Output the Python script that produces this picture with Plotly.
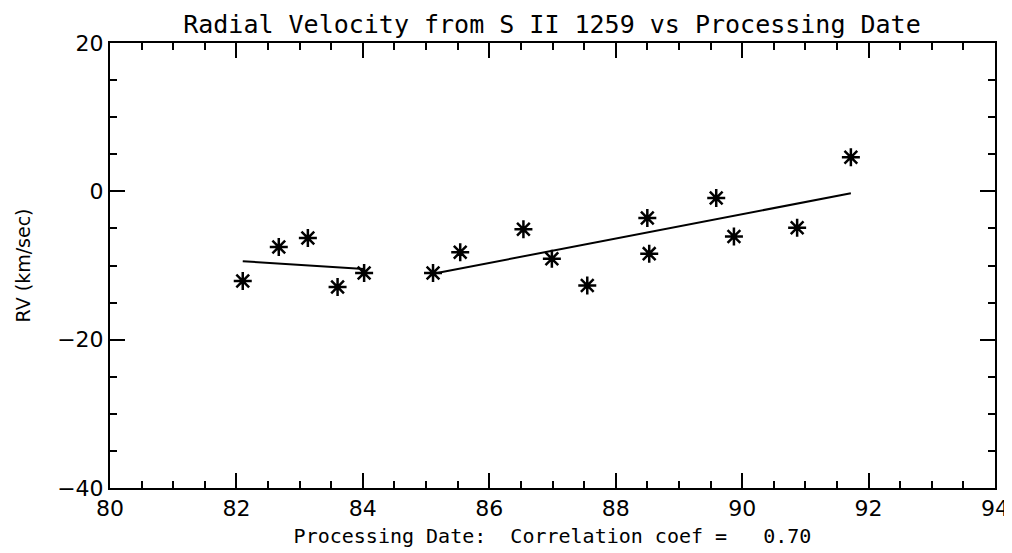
import numpy as np
import plotly.graph_objects as go

# early group of processing dates and RVs
date_early = [82.10, 82.67, 83.13, 83.60, 84.02]
rv_early = [-12.1, -7.5, -6.3, -12.9, -11.0]

# later group
date_late = [85.11, 85.54, 86.54, 86.99, 87.55, 88.50, 88.53, 89.59, 89.87, 90.87, 91.72]
rv_late = [-11.0, -8.2, -5.1, -9.1, -12.7, -3.6, -8.4, -0.9, -6.1, -4.9, 4.6]

x_ticks = [80, 82, 84, 86, 88, 90, 92, 94]
y_ticks = [-40, -20, 0, 20]

FONT = "DejaVu Sans"
MONO = "DejaVu Sans Mono"

fig = go.Figure()

for xs, ys in [(date_early, rv_early), (date_late, rv_late)]:
    xs = np.array(xs)
    ys = np.array(ys)
    slope, icpt = np.polyfit(xs, ys, 1)
    fx = np.array([xs.min(), xs.max()])
    fig.add_trace(go.Scatter(
        x=fx, y=slope * fx + icpt, mode="lines",
        line=dict(color="black", width=2), showlegend=False, hoverinfo="skip",
    ))
    fig.add_trace(go.Scatter(
        x=xs, y=ys, mode="markers",
        marker=dict(symbol="asterisk-open", size=15, color="black",
                    line=dict(color="black", width=2.5)),
        showlegend=False,
    ))

axis_common = dict(
    showgrid=False, zeroline=False, showline=True, linecolor="black", linewidth=2,
    mirror="allticks", ticks="inside", tickcolor="black", tickwidth=1.5,
    ticklen=15, tickfont=dict(family=FONT, size=22, color="black"),
    automargin=False,
)

# page body adds an 8px offset, margins are shifted to compensate
fig.update_layout(
    width=1012, height=553,
    paper_bgcolor="white", plot_bgcolor="white",
    margin=dict(l=102, r=25, t=35, b=73),
    title=dict(text="Radial Velocity from S II 1259 vs Processing Date",
               x=0.5375, xanchor="center", y=0.971, yanchor="middle",
               font=dict(family=MONO, size=25, color="black"), automargin=False),
    xaxis=dict(range=[80, 94], tickvals=x_ticks, ticktext=[str(v) for v in x_ticks],
               title=dict(text="Processing Date:  Correlation coef =   0.70",
                          font=dict(family=MONO, size=20, color="black"), standoff=9),
               minor=dict(dtick=0.5, ticks="inside", ticklen=7, tickcolor="black", tickwidth=1.5),
               **axis_common),
    yaxis=dict(range=[-40, 20], tickvals=y_ticks, ticktext=["\u221240", "\u221220", "0", "20"],
               title=dict(text="RV (km/sec)", font=dict(family=FONT, size=19, color="black"),
                          standoff=22),
               minor=dict(dtick=5, ticks="inside", ticklen=7, tickcolor="black", tickwidth=1.5),
               **axis_common),
)

fig.write_html("out.html")
